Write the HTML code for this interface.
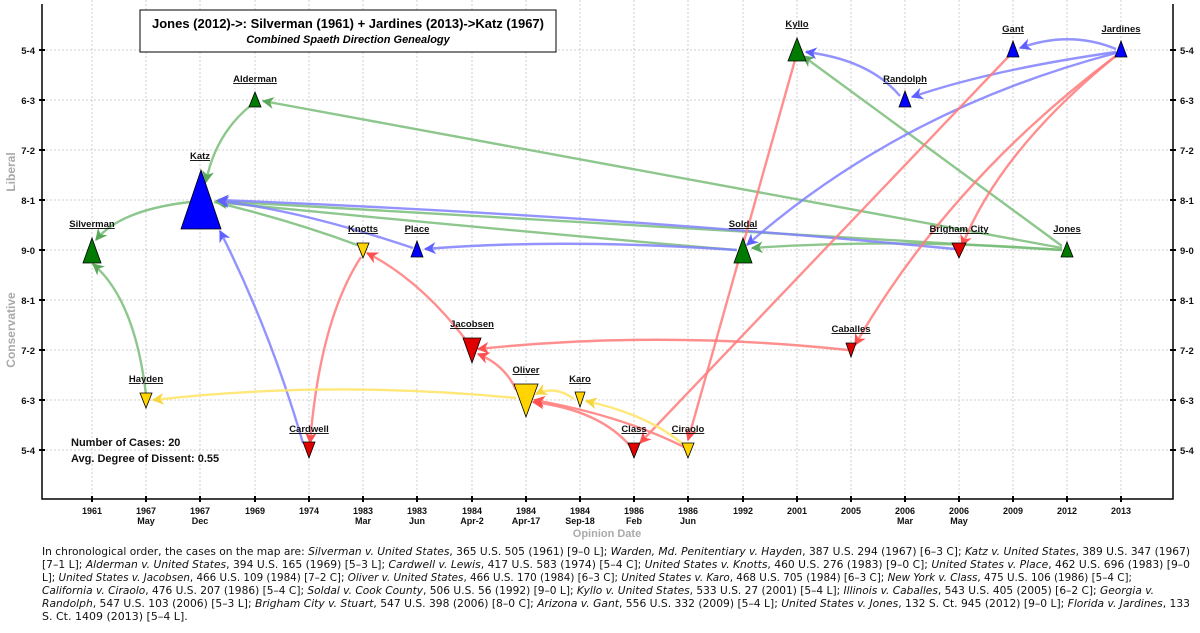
<!DOCTYPE html>
<html><head><meta charset="utf-8"><style>
html,body{margin:0;padding:0;background:#fff;}
svg{display:block;}
.tl{font:bold 9.5px "Liberation Sans",sans-serif;fill:#111;}
.nl{font:bold 9.5px "Liberation Sans",sans-serif;fill:#111;text-anchor:middle;text-decoration:underline;}
.xl{font:bold 9px "Liberation Sans",sans-serif;fill:#111;text-anchor:middle;}
.p{font:11px "DejaVu Sans","Liberation Sans",sans-serif;fill:#111;}
.e{fill:none;stroke-width:2.4;}
.g{stroke:#79bd79;stroke-opacity:.85;}
.b{stroke:#8080ff;stroke-opacity:.85;}
.r{stroke:#ff7b7b;stroke-opacity:.85;}
.y{stroke:#ffe66a;stroke-opacity:.9;}
</style></head><body>
<svg width="1200" height="633" viewBox="0 0 1200 633" xmlns="http://www.w3.org/2000/svg">
<defs>
<marker id="ag" viewBox="0 0 10 10" refX="9" refY="5" markerWidth="5" markerHeight="5" orient="auto-start-reverse"><path d="M0,0 L10,5 L0,10 L3,5 z" fill="#5aa85a"/></marker>
<marker id="ab" viewBox="0 0 10 10" refX="9" refY="5" markerWidth="5" markerHeight="5" orient="auto"><path d="M0,0 L10,5 L0,10 L3,5 z" fill="#6060ff"/></marker>
<marker id="ar" viewBox="0 0 10 10" refX="9" refY="5" markerWidth="5" markerHeight="5" orient="auto"><path d="M0,0 L10,5 L0,10 L3,5 z" fill="#ff5050"/></marker>
<marker id="ay" viewBox="0 0 10 10" refX="9" refY="5" markerWidth="5" markerHeight="5" orient="auto"><path d="M0,0 L10,5 L0,10 L3,5 z" fill="#f5d640"/></marker>
</defs>
<g stroke="#cfcfcf" stroke-width="1" stroke-dasharray="2,2">
<line x1="42" y1="50" x2="1173" y2="50"/><line x1="42" y1="100" x2="1173" y2="100"/><line x1="42" y1="150" x2="1173" y2="150"/><line x1="42" y1="200" x2="1173" y2="200"/><line x1="42" y1="250" x2="1173" y2="250"/><line x1="42" y1="300" x2="1173" y2="300"/><line x1="42" y1="350" x2="1173" y2="350"/><line x1="42" y1="400" x2="1173" y2="400"/><line x1="42" y1="450" x2="1173" y2="450"/>
<line x1="92" y1="0" x2="92" y2="499"/><line x1="146" y1="0" x2="146" y2="499"/><line x1="200" y1="0" x2="200" y2="499"/><line x1="255" y1="0" x2="255" y2="499"/><line x1="309" y1="0" x2="309" y2="499"/><line x1="363" y1="0" x2="363" y2="499"/><line x1="417" y1="0" x2="417" y2="499"/><line x1="472" y1="0" x2="472" y2="499"/><line x1="526" y1="0" x2="526" y2="499"/><line x1="580" y1="0" x2="580" y2="499"/><line x1="634" y1="0" x2="634" y2="499"/><line x1="688" y1="0" x2="688" y2="499"/><line x1="743" y1="0" x2="743" y2="499"/><line x1="797" y1="0" x2="797" y2="499"/><line x1="851" y1="0" x2="851" y2="499"/><line x1="905" y1="0" x2="905" y2="499"/><line x1="959" y1="0" x2="959" y2="499"/><line x1="1013" y1="0" x2="1013" y2="499"/><line x1="1067" y1="0" x2="1067" y2="499"/><line x1="1121" y1="0" x2="1121" y2="499"/>
</g>
<g stroke="#000" stroke-width="1.5" fill="none">
<polyline points="42,4 42,499 1173,499 1173,4"/>
</g>
<g stroke="#000" stroke-width="2">
<path d="M39,50h6M39,100h6M39,150h6M39,200h6M39,250h6M39,300h6M39,350h6M39,400h6M39,450h6"/>
<path d="M1170,50h6M1170,100h6M1170,150h6M1170,200h6M1170,250h6M1170,300h6M1170,350h6M1170,400h6M1170,450h6"/>
<path d="M92,496v6M146,496v6M200,496v6M255,496v6M309,496v6M363,496v6M417,496v6M472,496v6M526,496v6M580,496v6M634,496v6M688,496v6M743,496v6M797,496v6M851,496v6M905,496v6M959,496v6M1013,496v6M1067,496v6M1121,496v6"/>
</g>
<g class="tl" text-anchor="end">
<text x="35" y="54">5-4</text><text x="35" y="104">6-3</text><text x="35" y="154">7-2</text><text x="35" y="204">8-1</text><text x="35" y="254">9-0</text><text x="35" y="304">8-1</text><text x="35" y="354">7-2</text><text x="35" y="404">6-3</text><text x="35" y="454">5-4</text>
</g>
<g class="tl">
<text x="1180" y="54">5-4</text><text x="1180" y="104">6-3</text><text x="1180" y="154">7-2</text><text x="1180" y="204">8-1</text><text x="1180" y="254">9-0</text><text x="1180" y="304">8-1</text><text x="1180" y="354">7-2</text><text x="1180" y="404">6-3</text><text x="1180" y="454">5-4</text>
</g>
<g font-family="Liberation Sans,sans-serif" font-weight="bold" font-size="12" fill="#aaa" text-anchor="middle">
<text transform="translate(15,172) rotate(-90)">Liberal</text>
<text transform="translate(15,330) rotate(-90)">Conservative</text>
<text x="607" y="537" font-size="11">Opinion Date</text>
</g>
<g class="xl">
<text x="92" y="514">1961</text>
<text x="146" y="514">1967</text><text x="146" y="524">May</text>
<text x="200" y="514">1967</text><text x="200" y="524">Dec</text>
<text x="255" y="514">1969</text>
<text x="309" y="514">1974</text>
<text x="363" y="514">1983</text><text x="363" y="524">Mar</text>
<text x="417" y="514">1983</text><text x="417" y="524">Jun</text>
<text x="472" y="514">1984</text><text x="472" y="524">Apr-2</text>
<text x="526" y="514">1984</text><text x="526" y="524">Apr-17</text>
<text x="580" y="514">1984</text><text x="580" y="524">Sep-18</text>
<text x="634" y="514">1986</text><text x="634" y="524">Feb</text>
<text x="688" y="514">1986</text><text x="688" y="524">Jun</text>
<text x="743" y="514">1992</text>
<text x="797" y="514">2001</text>
<text x="851" y="514">2005</text>
<text x="905" y="514">2006</text><text x="905" y="524">Mar</text>
<text x="959" y="514">2006</text><text x="959" y="524">May</text>
<text x="1013" y="514">2009</text>
<text x="1067" y="514">2012</text>
<text x="1121" y="514">2013</text>
</g>
<rect x="140" y="10" width="416" height="42" fill="#fff" stroke="#000" stroke-width="1"/>
<text x="348" y="28" text-anchor="middle" font-family="Liberation Sans,sans-serif" font-weight="bold" font-size="13">Jones (2012)-&gt;: Silverman (1961) + Jardines (2013)-&gt;Katz (1967)</text>
<text x="348" y="43" text-anchor="middle" font-family="Liberation Sans,sans-serif" font-weight="bold" font-style="italic" font-size="11">Combined Spaeth Direction Genealogy</text>
<g class="e">
<path class="g" d="M190,202 Q120,210 96,240" marker-end="url(#ag)"/>
<path class="g" d="M146,395 Q135,300 93,264" marker-end="url(#ag)"/>
<path class="g" d="M250,106 Q215,135 206,182" marker-end="url(#ag)"/>
<path class="g" d="M1062,248 L263,101" marker-end="url(#ag)"/>
<path class="g" d="M1062,250 Q700,230 216,201" marker-end="url(#ag)"/>
<path class="g" d="M736,250 Q500,230 216,202" marker-end="url(#ag)"/>
<path class="g" d="M360,246 Q290,220 214,202"/>
<path class="g" d="M1062,250 Q900,238 752,248" marker-end="url(#ag)"/>
<path class="g" d="M1062,246 L803,56" marker-end="url(#ag)"/>
<path class="b" d="M303,443 Q270,330 220,231" marker-end="url(#ab)"/>
<path class="b" d="M955,249 Q600,215 218,200" marker-end="url(#ab)"/>
<path class="b" d="M413,248 Q300,210 218,201" marker-end="url(#ab)"/>
<path class="b" d="M737,250 Q560,238 425,249" marker-end="url(#ab)"/>
<path class="b" d="M900,96 Q870,60 806,52" marker-end="url(#ab)"/>
<path class="b" d="M1116,52 Q990,70 912,97" marker-end="url(#ab)"/>
<path class="b" d="M1116,49 Q1070,30 1020,48" marker-end="url(#ab)"/>
<path class="b" d="M1116,53 Q900,110 747,245" marker-end="url(#ab)"/>
<path class="r" d="M795,60 L688,440" marker-end="url(#ar)"/>
<path class="r" d="M1009,56 L640,443" marker-end="url(#ar)"/>
<path class="r" d="M1117,55 Q1000,150 962,246" marker-end="url(#ar)"/>
<path class="r" d="M1117,55 Q950,180 855,345" marker-end="url(#ar)"/>
<path class="r" d="M848,350 Q660,330 478,349" marker-end="url(#ar)"/>
<path class="r" d="M466,340 Q420,280 367,253" marker-end="url(#ar)"/>
<path class="r" d="M361,257 Q320,320 310,443" marker-end="url(#ar)"/>
<path class="r" d="M516,390 Q505,365 478,354" marker-end="url(#ar)"/>
<path class="r" d="M631,447 Q600,410 533,402" marker-end="url(#ar)"/>
<path class="r" d="M684,447 Q620,415 534,400" marker-end="url(#ar)"/>
<path class="y" d="M516,398 Q330,380 153,400" marker-end="url(#ay)"/>
<path class="y" d="M685,446 Q650,415 586,401" marker-end="url(#ay)"/>
<path class="y" d="M574,399 Q555,385 536,394" marker-end="url(#ay)"/>
</g>
<g stroke="#000" stroke-width="0.8">
<polygon fill="#007a00" points="92,238 83,263 101,263"/>
<polygon fill="#ffd400" points="140,393 152,393 146,408"/>
<polygon fill="#0000ff" points="201,170 181,229 221,229"/>
<polygon fill="#007a00" points="255,92 249,107 261,107"/>
<polygon fill="#e00000" points="303,442 315,442 309,458"/>
<polygon fill="#ffd400" points="357,243 369,243 363,258"/>
<polygon fill="#0000ff" points="417,241 411,257 423,257"/>
<polygon fill="#e00000" points="463,338 481,338 472,363"/>
<polygon fill="#ffd400" points="514,384 538,384 526,417"/>
<polygon fill="#ffd400" points="575,392 585,392 580,407"/>
<polygon fill="#e00000" points="628,443 640,443 634,458"/>
<polygon fill="#ffd400" points="682,443 694,443 688,458"/>
<polygon fill="#007a00" points="743,238 734,263 752,263"/>
<polygon fill="#007a00" points="797,38 788,61 806,61"/>
<polygon fill="#e00000" points="846,343 856,343 851,357"/>
<polygon fill="#0000ff" points="905,91 899,107 911,107"/>
<polygon fill="#e00000" points="952,243 966,243 959,258"/>
<polygon fill="#0000ff" points="1013,41 1007,57 1019,57"/>
<polygon fill="#007a00" points="1067,242 1061,257 1073,257"/>
<polygon fill="#0000ff" points="1121,41 1115,57 1127,57"/>
</g>
<g class="nl">
<text x="92" y="227">Silverman</text>
<text x="146" y="382">Hayden</text>
<text x="200" y="159">Katz</text>
<text x="255" y="82">Alderman</text>
<text x="309" y="432">Cardwell</text>
<text x="363" y="232">Knotts</text>
<text x="417" y="232">Place</text>
<text x="472" y="327">Jacobsen</text>
<text x="526" y="373">Oliver</text>
<text x="580" y="382">Karo</text>
<text x="634" y="432">Class</text>
<text x="688" y="432">Ciraolo</text>
<text x="743" y="227">Soldal</text>
<text x="797" y="27">Kyllo</text>
<text x="851" y="332">Caballes</text>
<text x="905" y="82">Randolph</text>
<text x="959" y="232">Brigham City</text>
<text x="1013" y="32">Gant</text>
<text x="1067" y="232">Jones</text>
<text x="1121" y="32">Jardines</text>
</g>
<g font-family="Liberation Sans,sans-serif" font-weight="bold" font-size="11" fill="#111">
<text x="71" y="446">Number of Cases: 20</text>
<text x="71" y="462">Avg. Degree of Dissent: 0.55</text>
</g>
<g class="p">
<text x="42" y="555" textLength="1148" lengthAdjust="spacingAndGlyphs">In chronological order, the cases on the map are:  <tspan font-style="italic">Silverman v. United States</tspan>, 365 U.S. 505 (1961) [9–0 L];  <tspan font-style="italic">Warden, Md. Penitentiary v. Hayden</tspan>, 387 U.S. 294 (1967) [6–3 C];  <tspan font-style="italic">Katz v. United States</tspan>, 389 U.S. 347 (1967)</text>
<text x="42" y="568" textLength="1148" lengthAdjust="spacingAndGlyphs">[7–1 L];  <tspan font-style="italic">Alderman v. United States</tspan>, 394 U.S. 165 (1969) [5–3 L];  <tspan font-style="italic">Cardwell v. Lewis</tspan>, 417 U.S. 583 (1974) [5–4 C];  <tspan font-style="italic">United States v. Knotts</tspan>, 460 U.S. 276 (1983) [9–0 C];  <tspan font-style="italic">United States v. Place</tspan>, 462 U.S. 696 (1983) [9–0</text>
<text x="42" y="581" textLength="1090" lengthAdjust="spacingAndGlyphs">L];  <tspan font-style="italic">United States v. Jacobsen</tspan>, 466 U.S. 109 (1984) [7–2 C];  <tspan font-style="italic">Oliver v. United States</tspan>, 466 U.S. 170 (1984) [6–3 C];  <tspan font-style="italic">United States v. Karo</tspan>, 468 U.S. 705 (1984) [6–3 C];  <tspan font-style="italic">New York v. Class</tspan>, 475 U.S. 106 (1986) [5–4 C];</text>
<text x="42" y="594" textLength="1112" lengthAdjust="spacingAndGlyphs"><tspan font-style="italic">California v. Ciraolo</tspan>, 476 U.S. 207 (1986) [5–4 C];  <tspan font-style="italic">Soldal v. Cook County</tspan>, 506 U.S. 56 (1992) [9–0 L];  <tspan font-style="italic">Kyllo v. United States</tspan>, 533 U.S. 27 (2001) [5–4 L];  <tspan font-style="italic">Illinois v. Caballes</tspan>, 543 U.S. 405 (2005) [6–2 C];  <tspan font-style="italic">Georgia v.</tspan></text>
<text x="42" y="607" textLength="1148" lengthAdjust="spacingAndGlyphs"><tspan font-style="italic">Randolph</tspan>, 547 U.S. 103 (2006) [5–3 L];  <tspan font-style="italic">Brigham City v. Stuart</tspan>, 547 U.S. 398 (2006) [8–0 C];  <tspan font-style="italic">Arizona v. Gant</tspan>, 556 U.S. 332 (2009) [5–4 L];  <tspan font-style="italic">United States v. Jones</tspan>, 132 S. Ct. 945 (2012) [9–0 L];  <tspan font-style="italic">Florida v. Jardines</tspan>, 133</text>
<text x="42" y="620">S. Ct. 1409 (2013) [5–4 L].</text>
</g>
</svg>
</body></html>
